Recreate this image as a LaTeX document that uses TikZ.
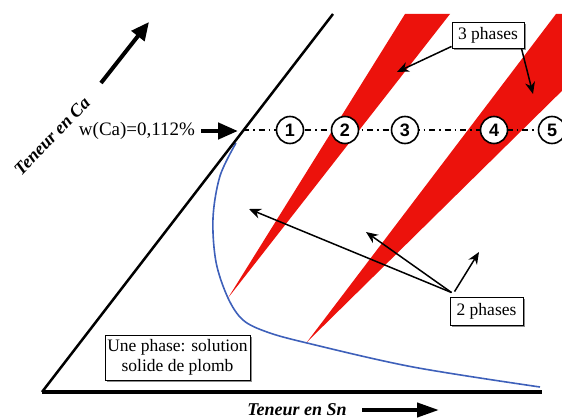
\documentclass[tikz,border=0pt]{standalone}
\usepackage{fontspec}
\setmainfont{Liberation Serif}
\newfontfamily\numfont{Liberation Sans}
\usetikzlibrary{arrows.meta,shadows}
\definecolor{bandred}{RGB}{236,18,12}
\definecolor{curveblue}{RGB}{62,96,186}
\tikzset{
  txt/.style={font=\fontsize{17.5}{20}\selectfont, inner sep=0pt},
  axislbl/.style={font=\bfseries\itshape\fontsize{18}{20}\selectfont, inner sep=0pt},
  num/.style={circle, draw, fill=white, line width=1.6pt, minimum size=27pt, inner sep=0pt,
              font=\numfont\bfseries\fontsize{18}{18}\selectfont},
  lbox/.style={draw, fill=white, line width=0.9pt, inner sep=2pt, align=center,
               font=\fontsize{17.5}{20}\selectfont,
               drop shadow={shadow xshift=1.6pt, shadow yshift=-1.6pt, fill=black!45, opacity=1}},
  bigarrow/.style={line width=4.5pt, -{Triangle[length=20pt, width=16pt]}},
  thinarrow/.style={line width=1.5pt, -{Stealth[length=12pt, width=10pt]}},
}
\begin{document}
\begin{tikzpicture}[x=1pt,y=-1pt]
\useasboundingbox (0,0) rectangle (562,420);
% red three-phase bands
\begin{scope}
  \clip (0,0) rectangle (562,420);
  \fill[bandred] (228,298) -- (405,14) -- (450,14) -- cycle;
  \fill[bandred] (307,342) -- (556,14) -- (640,14) -- cycle;
\end{scope}
% solubility curve
\draw[curveblue, line width=1.6pt] plot[smooth, tension=0.55] coordinates
  {(236,143) (220,176) (213,218) (216,262) (228,298) (243,320) (267,332) (307,343) (413,367) (540,387)};
% axes
\coordinate (O) at (42,392);
\coordinate (T) at (333,14);
\coordinate (R) at (542,392);
\draw[line width=2.5pt] (T) -- (O);
\draw[line width=3.2pt] (O) -- (R);
% dash-dot line
\coordinate (D0) at (243,130);
\coordinate (D1) at (566,130);
\draw[line width=1.3pt, dash pattern=on 6pt off 4pt on 1.5pt off 4pt] (D0) -- (D1);
% numbered circles
\node[num] (c1) at (290,130) {1};
\node[num] (c2) at (345,130) {2};
\node[num] (c3) at (405,130) {3};
\node[num] (c4) at (494,130) {4};
\node[num] (c5) at (552,130) {5};
% w(Ca) label and arrow
\node[txt, font=\fontsize{19}{20}\selectfont] (wca) at (137,131) {w(Ca)=0,112\%};
\coordinate (wA) at (201,131);
\coordinate (wB) at (238,131);
\draw[bigarrow] (wA) -- (wB);
% axis labels
\node[axislbl, rotate=46] (tca) at (52,136) {Teneur en Ca};
\coordinate (ca1) at (101,83);
\coordinate (ca2) at (149,22);
\draw[line width=4pt, -{Triangle[length=18pt, width=16pt]}] (ca1) -- (ca2);
\node[axislbl] (tsn) at (297,410) {Teneur en Sn};
\coordinate (sn1) at (362,410);
\coordinate (sn2) at (439,410);
\draw[line width=4pt, -{Triangle[length=22pt, width=14pt]}] (sn1) -- (sn2);
% boxes
\node[lbox, minimum width=72pt, minimum height=26pt] (p3) at (488,35) {3 phases};
\node[lbox, minimum width=73pt, minimum height=28pt] (p2) at (486.5,311) {2 phases};
\node[lbox, minimum width=145pt, minimum height=45pt] (une) at (177.5,357.5) {Une phase: solution\\solide de plomb};
% 3 phases arrows
\coordinate (t1) at (397,72);
\coordinate (t2) at (533,94);
\draw[thinarrow] ([yshift=2pt]p3.south west) -- (t1);
\draw[thinarrow] ([xshift=-3pt]p3.south east) -- (t2);
% 2 phases arrows
\coordinate (b1) at (249,209);
\coordinate (b2) at (366,232);
\coordinate (b3) at (479,252);
\draw[thinarrow] ([shift={(2,-4)}]p2.north west) -- (b1);
\draw[thinarrow] ([shift={(2,-4)}]p2.north west) -- (b2);
\draw[thinarrow] ([shift={(5,-5)}]p2.north west) -- (b3);
\end{tikzpicture}
\end{document}
